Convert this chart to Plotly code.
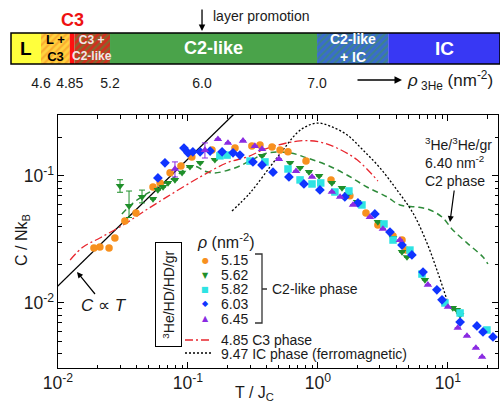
import plotly.graph_objects as go

# ---------------- data ----------------
# phase band (schematic, areal density of 3He in nm^-2)
band_names = ["L", "L +<br>C3", "", "C3 +<br>C2-like", "C2-like", "C2-like<br>+ IC", "IC"]
band_start = [4.34, 4.60, 4.85, 4.89, 5.20, 7.00, 7.62]
band_end = [4.60, 4.85, 4.89, 5.20, 7.00, 7.62, 8.60]
band_tick_vals = [4.6, 4.85, 5.2, 6.0, 7.0]
band_tick_text = ["4.6", "4.85", "5.2", "6.0", "7.0"]
layer_promotion_rho = 6.0
c3_rho = 4.87

# C2-like phase data, 3He/HD/HD/gr
T_515 = [0.0189, 0.0210, 0.0247, 0.0274, 0.0327, 0.0398, 0.0538, 0.0610, 0.0728, 0.0883, 0.107,
         0.153, 0.230, 0.310, 0.358, 0.443, 0.511, 0.588, 0.809, 1.26, 1.76, 2.34, 2.89, 3.78, 4.43, 4.75]
C_515 = [0.0271, 0.0276, 0.0271, 0.0325, 0.0442, 0.0511, 0.0819, 0.0881, 0.106, 0.120, 0.141,
         0.160, 0.166, 0.172, 0.175, 0.169, 0.160, 0.155, 0.131, 0.0931, 0.0697, 0.0511, 0.0411, 0.0337, 0.0313, 0.0261]

T_562 = [0.0300, 0.0352, 0.0443, 0.0538, 0.0587, 0.0643, 0.0702, 0.0794, 0.0900, 0.1035, 0.124, 0.161,
         0.251, 0.371, 0.610, 0.728, 0.853, 1.02, 1.28, 1.53, 1.70, 2.0, 2.89, 3.78, 4.43, 4.84, 6.65,
         10.9, 11.7, 12.4]
C_562 = [0.0834, 0.0581, 0.0684, 0.0659, 0.0776, 0.0819, 0.0881, 0.0931, 0.106, 0.118, 0.127, 0.134,
         0.144, 0.144, 0.127, 0.116, 0.1075, 0.100, 0.0881, 0.0805, 0.0721, 0.0624, 0.0435, 0.0325, 0.0252,
         0.0230, 0.0152, 0.00914, 0.00881, 0.00805]
E_562_plus = [0.010, 0.018, 0.009] + [None] * 27
E_562_minus = [0.009, 0.011, 0.007] + [None] * 27

T_582 = [0.176, 0.200, 0.300, 0.391, 0.588, 0.728, 0.90, 1.05, 1.35, 1.73, 2.18, 3.22, 3.78, 5.10,
         6.31, 9.48, 12.4, 19.95]
C_582 = [0.144, 0.146, 0.131, 0.129, 0.1135, 0.0931, 0.0865, 0.0881, 0.0748, 0.0762, 0.0591, 0.0419,
         0.0313, 0.0261, 0.0169, 0.0100, 0.00834, 0.00613]

T_603 = [0.0587, 0.0665, 0.0931, 0.100, 0.109, 0.124, 0.148, 0.183, 0.222, 0.251, 0.316, 0.371, 0.451,
         0.598, 0.780, 1.035, 1.61, 2.03, 2.74, 3.58, 4.43, 5.28, 6.43, 8.22, 9.0, 12.4, 16.7, 18.6, 22.2]
C_603 = [0.0964, 0.127, 0.166, 0.152, 0.155, 0.155, 0.157, 0.155, 0.152, 0.146, 0.129, 0.122, 0.107,
         0.0982, 0.0865, 0.0776, 0.0684, 0.0613, 0.0502, 0.0362, 0.0286, 0.0239, 0.0175, 0.0127, 0.0106,
         0.00708, 0.00659, 0.00591, 0.00540]

T_645 = [0.0794, 0.135, 0.170, 0.203, 0.265, 0.327, 0.371, 0.501, 0.678, 0.90, 1.28, 1.48, 1.86, 2.51,
         3.16, 4.27, 7.01, 10.0, 11.9, 14.0, 16.4, 18.3]
C_645 = [0.1135, 0.160, 0.195, 0.182, 0.189, 0.172, 0.163, 0.136, 0.109, 0.0982, 0.0748, 0.0684, 0.0591,
         0.0475, 0.0383, 0.0313, 0.0139, 0.00931, 0.00636, 0.00550, 0.00443, 0.00376]
E_645_plus = [0.0155, 0.022] + [None] * 20
E_645_minus = [0.0153, 0.0215] + [None] * 20

# reference curves
T_c3 = [0.0124, 0.0156, 0.0210, 0.0327, 0.0451, 0.0689, 0.124, 0.200, 0.284, 0.412, 0.728, 1.035, 1.40, 2.0, 2.89]
C_c3 = [0.0218, 0.0276, 0.0325, 0.0419, 0.0521, 0.0684, 0.0982, 0.127, 0.141, 0.166, 0.189, 0.185, 0.166, 0.134, 0.0913]

T_ic = [0.218, 0.300, 0.428, 0.538, 0.689, 0.822, 1.0, 1.24, 1.67, 2.22, 3.0, 4.05, 5.38, 6.89, 8.22, 9.82]
C_ic = [0.0530, 0.0735, 0.118, 0.160, 0.218, 0.247, 0.261, 0.247, 0.211, 0.160, 0.1157, 0.0776, 0.0511,
        0.0297, 0.0182, 0.0106]

T_c2 = [0.0310, 0.0378, 0.0538, 0.0794, 0.1035, 0.117, 0.135, 0.161, 0.203, 0.251, 0.310, 0.412, 0.610,
        0.822, 1.17, 1.67, 2.38, 3.40, 4.27, 5.78, 7.27, 9.0, 10.9, 14.0, 18.6, 20.3]
C_c2 = [0.0502, 0.0613, 0.0776, 0.0982, 0.120, 0.118, 0.109, 0.1057, 0.111, 0.120, 0.134, 0.152, 0.152,
        0.1387, 0.122, 0.1018, 0.0819, 0.0684, 0.0591, 0.0570, 0.0540, 0.0475, 0.0376, 0.0297, 0.0230, 0.0203]

T_lin = [0.008, 0.25]
C_lin = [0.0109, 0.34]

legend_rho = ["5.15", "5.62", "5.82", "6.03", "6.45"]

# ---------------- styling ----------------
FONT = "Arial, Liberation Sans, sans-serif"
TXT = "#1a1a1a"
W, H = 500, 401


def px(x):
    return x / W


def py(y):
    return 1 - y / H


COL = {"5.15": "#f7901e", "5.62": "#1f8f2a", "5.82": "#2ee3e3", "6.03": "#1034ff", "6.45": "#8a2be2"}
SYM = {"5.15": "circle", "5.62": "triangle-down", "5.82": "square", "6.03": "diamond", "6.45": "triangle-up"}
GLYPH = {"5.15": "●", "5.62": "▼", "5.82": "■", "6.03": "◆", "6.45": "▲"}

fig = go.Figure()

# ---- phase band ----
band_style = [
    dict(color="#ffff3c"),
    dict(color="#ffd23f", pattern=dict(shape="/", fgcolor="#f58a1f", bgcolor="#ffd23f", size=5, solidity=0.45)),
    dict(color="#ff1010"),
    dict(color="#c83a28", pattern=dict(shape="/", fgcolor="#3f9a3a", bgcolor="#d0301f", size=5, solidity=0.45)),
    dict(color="#4aa34a"),
    dict(color="#3d6fc8", pattern=dict(shape="/", fgcolor="#3f9a4a", bgcolor="#3a6ccc", size=5, solidity=0.4)),
    dict(color="#3838f4"),
]
for s, e, st in zip(band_start, band_end, band_style):
    fig.add_trace(go.Bar(x=[e - s], base=[s], y=[0], orientation="h", width=1,
                         marker=dict(line=dict(width=0), **st),
                         xaxis="x2", yaxis="y2", showlegend=False, hoverinfo="skip"))

band_font = [
    dict(size=19, color="black"),
    dict(size=13, color="black"),
    dict(size=12, color="white"),
    dict(size=12, color="#f4e6e6"),
    dict(size=18, color="white"),
    dict(size=14, color="white"),
    dict(size=19, color="white"),
]
annotations = []
for name, s, e, f in zip(band_names, band_start, band_end, band_font):
    if name:
        annotations.append(dict(x=(s + e) / 2, y=0, xref="x2", yref="y2", text="<b>" + name + "</b>",
                                showarrow=False, xanchor="center", yanchor="middle",
                                font=dict(family=FONT, **f)))

# ---- curves ----
fig.add_trace(go.Scatter(x=T_lin, y=C_lin, mode="lines", line=dict(color="black", width=1.3),
                         showlegend=False))
fig.add_trace(go.Scatter(x=T_c2, y=C_c2, mode="lines", line=dict(color="#2e8b3a", width=1.5, dash="6px,4px",
                                                                  shape="spline"), showlegend=False))
fig.add_trace(go.Scatter(x=T_c3, y=C_c3, mode="lines", line=dict(color="#e8262e", width=1.3,
                                                                  dash="8px,3px,2px,3px", shape="spline"),
                         showlegend=False))
fig.add_trace(go.Scatter(x=T_ic, y=C_ic, mode="lines", line=dict(color="black", width=1.3, dash="2px,2px",
                                                                  shape="spline"), showlegend=False))

# ---- data points ----
series = [("5.15", T_515, C_515, None, None), ("5.62", T_562, C_562, E_562_plus, E_562_minus),
          ("5.82", T_582, C_582, None, None), ("6.03", T_603, C_603, None, None),
          ("6.45", T_645, C_645, E_645_plus, E_645_minus)]
for key, T, C, ep, em in series:
    kw = {}
    if ep is not None:
        kw["error_y"] = dict(type="data", array=ep, arrayminus=em, color=COL[key], thickness=1, width=3)
    fig.add_trace(go.Scatter(x=T, y=C, mode="markers", name=key,
                             marker=dict(color=COL[key], symbol=SYM[key], size=7.5, line=dict(width=0)),
                             showlegend=False, **kw))

# ---- axes ----
axis_common = dict(showline=True, linecolor="black", linewidth=1, mirror="allticks", ticks="inside",
                   ticklen=6, tickcolor="black", showgrid=False, zeroline=False, dtick=1,
                   exponentformat="power", showexponent="all", automargin=False,
                   labelalias={"1": "10<sup>0</sup>", "10": "10<sup>1</sup>",
                               "10<sup>\u22122</sup>": "10<sup>-2</sup>",
                               "10<sup>\u22121</sup>": "10<sup>-1</sup>"},
                   tickfont=dict(family=FONT, size=14, color=TXT),
                   minor=dict(ticks="inside", ticklen=3.5, tickcolor="black", showgrid=False))
fig.update_layout(
    xaxis=dict(type="log", range=[-2, 1.385], domain=[px(58), px(498)], anchor="y", **axis_common),
    yaxis=dict(type="log", range=[-2.512, -0.52], domain=[py(368), py(115)], anchor="x", **axis_common),
    xaxis2=dict(range=[4.339, 8.591], domain=[px(11), 1.0], anchor="y2", showline=False, showgrid=False,
                zeroline=False, ticks="", tickvals=band_tick_vals, ticktext=band_tick_text, automargin=False,
                ticklabelstandoff=9, tickfont=dict(family=FONT, size=14, color=TXT), fixedrange=True),
    yaxis2=dict(range=[-0.5, 0.5], domain=[py(64), py(33)], anchor="x2", visible=False, fixedrange=True,
                automargin=False),
)


def txt(x, y, text, size=14, xanchor="center", color=TXT, **kw):
    return dict(x=px(x), y=py(y), xref="paper", yref="paper", text=text, showarrow=False,
                xanchor=xanchor, yanchor="middle", font=dict(family=FONT, size=size, color=color), **kw)


# ---- texts / annotations ----
annotations += [
    # band extras
    dict(x=c3_rho, y=py(20), xref="x2", yref="paper", text="<b>C3</b>", showarrow=False,
         xanchor="center", yanchor="middle", font=dict(family=FONT, size=18, color="#ee1111")),
    dict(x=layer_promotion_rho, y=py(31), xref="x2", yref="paper", text="", showarrow=True,
         arrowhead=2, arrowsize=1, arrowwidth=1.3, arrowcolor="black", ax=0, ay=-23),
    txt(211, 16, "layer promotion", xanchor="left"),
    dict(x=px(402), y=py(80), xref="paper", yref="paper", text="", showarrow=True, arrowhead=2,
         arrowsize=1, arrowwidth=1.5, arrowcolor="black", ax=-46, ay=0),
    txt(405, 80, "<i>ρ</i><sub> 3He</sub> (nm<sup>-2</sup>)", size=17, xanchor="left"),
    # axis titles
    txt(22, 240, "C / Nk<sub>B</sub>", size=16, textangle=-90),
    txt(254, 393, "T / J<sub>C</sub>", size=16),
    # C ∝ T
    dict(x=px(77), y=py(272), xref="paper", yref="paper", text="<i>C</i> ∝ <i>T</i>", showarrow=True,
         arrowhead=2, arrowsize=1, arrowwidth=1.2, arrowcolor="black", ax=27, ay=33,
         font=dict(family=FONT, size=17, color=TXT)),
    # 3He/3He/gr C2 phase
    dict(x=px(450), y=py(222), xref="paper", yref="paper",
         text="<sup>3</sup>He/<sup>3</sup>He/gr<br>6.40 nm<sup>-2</sup><br>C2 phase", align="left",
         showarrow=True, arrowhead=2, arrowsize=1, arrowwidth=1.2, arrowcolor="black", ax=8, ay=-60,
         font=dict(family=FONT, size=14, color=TXT)),
    # legend box
    txt(168.5, 294.5, "<sup>3</sup>He/HD/HD/gr", textangle=-90, width=101, height=23, borderpad=1,
        bordercolor="black", borderwidth=1, bgcolor="white"),
    txt(195, 241, "<i>ρ</i> (nm<sup>-2</sup>)", size=16, xanchor="left"),
    txt(270, 289, "C2-like phase", xanchor="left"),
    txt(219, 340, "4.85 C3 phase", xanchor="left"),
    txt(219, 354, "9.47 IC phase (ferromagnetic)", xanchor="left"),
]
leg_y = [260, 275, 289, 303.5, 318.5]
for key, yy in zip(legend_rho, leg_y):
    annotations.append(dict(x=px(205), y=py(yy), xref="paper", yref="paper", text=GLYPH[key],
                            showarrow=False, xanchor="center", yanchor="middle",
                            font=dict(family="DejaVu Sans", size=8, color=COL[key])))
    annotations.append(txt(219, yy, key, xanchor="left"))

shapes = [
    dict(type="rect", xref="x2 domain", yref="y2 domain", x0=0, x1=1, y0=0, y1=1,
         line=dict(color="black", width=1.5)),
    dict(type="line", xref="paper", yref="paper", x0=px(185), x1=px(212), y0=py(340), y1=py(340),
         line=dict(color="#e8262e", width=1.3, dash="8px,3px,2px,3px")),
    dict(type="line", xref="paper", yref="paper", x0=px(185), x1=px(212), y0=py(353), y1=py(353),
         line=dict(color="black", width=1.3, dash="2px,2px")),
    dict(type="path", xref="paper", yref="paper",
         path=f"M {px(255)},{py(254)} L {px(262)},{py(254)} L {px(262)},{py(323)} L {px(255)},{py(323)} "
              f"M {px(262)},{py(289)} L {px(267)},{py(289)}",
         line=dict(color="#333333", width=1.3)),
]

fig.update_layout(width=W, height=H, margin=dict(l=0, r=0, t=0, b=0, pad=0, autoexpand=False),
                  plot_bgcolor="white", paper_bgcolor="white", barmode="overlay", showlegend=False,
                  font=dict(family=FONT, color=TXT), annotations=annotations, shapes=shapes)

fig.write_html("out.html", config={"displayModeBar": False},
               post_script="document.body.style.margin='0px';")
